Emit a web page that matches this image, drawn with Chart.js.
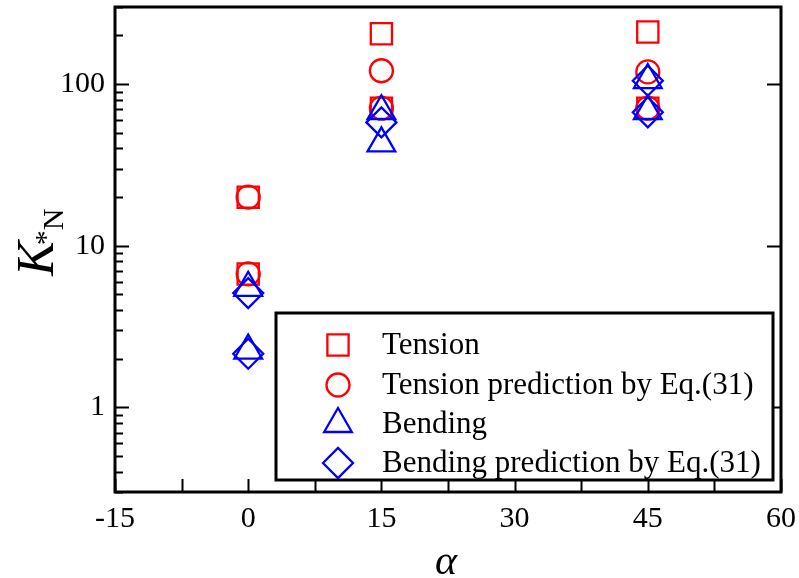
<!DOCTYPE html>
<html>
<head>
<meta charset="utf-8">
<script src="https://cdn.jsdelivr.net/npm/chart.js@4.4.0/dist/chart.umd.min.js"></script>
<style>
  html, body { margin: 0; padding: 0; background: #fff; }
</style>
</head>
<body>
<canvas id="kChart" width="799" height="578"></canvas>
<script>
// ===== data: K*N against angle alpha =====
const alphaTension = [0, 0, 15, 15, 45, 45];
const kTension = [20, 6.7, 205, 71, 210, 71];

const alphaTensionPred = [0, 0, 15, 15, 45, 45];
const kTensionPred = [20, 6.7, 121, 71, 119, 71];

const alphaBending = [0, 0, 15, 15, 45, 45];
const kBending = [5.5, 2.25, 68, 43, 106, 68];

const alphaBendingPred = [0, 0, 15, 45, 45];
const kBendingPred = [5.1, 2.15, 58, 105, 67];

const seriesNames = [
  "Tension",
  "Tension prediction by Eq.(31)",
  "Bending",
  "Bending prediction by Eq.(31)",
];

const xTickValues = [-15, 0, 15, 30, 45, 60];
const yTickValues = [1, 10, 100];

const RED = "#ff0000";
const BLUE = "#0000ff";
const SERIF = "'Liberation Serif', 'Times New Roman', serif";
const MARK_LW = 2.3;

function toPoints(xs, ys) {
  return xs.map((x, i) => ({ x: x, y: ys[i] }));
}

function makeSet(label, xs, ys, color, style, radius, order) {
  return {
    label: label,
    data: toPoints(xs, ys),
    showLine: false,
    pointStyle: style,
    pointRadius: radius,
    pointHoverRadius: radius,
    pointBorderWidth: MARK_LW,
    pointBorderColor: color,
    pointBackgroundColor: "rgba(0,0,0,0)",
    borderColor: color,
    order: order,
  };
}

const datasets = [
  makeSet(seriesNames[0], alphaTension, kTension, RED, "rect", 15, 4),
  makeSet(seriesNames[1], alphaTensionPred, kTensionPred, RED, "circle", 11.5, 3),
  makeSet(seriesNames[2], alphaBending, kBending, BLUE, "triangle", 16, 2),
  makeSet(seriesNames[3], alphaBendingPred, kBendingPred, BLUE, "rectRot", 15, 1),
];

// shape drawing for the legend, same shapes as the chart points
function drawMarker(ctx, style, radius, x, y) {
  if (Chart.helpers && Chart.helpers.drawPoint) {
    Chart.helpers.drawPoint(ctx, { pointStyle: style, radius: radius, borderWidth: MARK_LW }, x, y);
    return;
  }
  ctx.beginPath();
  if (style === "circle") {
    ctx.arc(x, y, radius, 0, Math.PI * 2);
  } else if (style === "rect") {
    const s = radius * Math.SQRT1_2;
    ctx.rect(x - s, y - s, 2 * s, 2 * s);
  } else if (style === "triangle") {
    ctx.moveTo(x, y - radius);
    ctx.lineTo(x + radius * 0.866, y + radius * 0.5);
    ctx.lineTo(x - radius * 0.866, y + radius * 0.5);
    ctx.closePath();
  } else {
    ctx.moveTo(x, y - radius);
    ctx.lineTo(x + radius, y);
    ctx.lineTo(x, y + radius);
    ctx.lineTo(x - radius, y);
    ctx.closePath();
  }
  ctx.stroke();
}

// frame around the plot + inward tick marks
const frameTicks = {
  id: "frameTicks",
  beforeDatasetsDraw(chart) {
    const { ctx, chartArea: a, scales } = chart;
    const xs = scales.x;
    const ys = scales.y;
    ctx.save();
    ctx.strokeStyle = "#000";
    ctx.lineWidth = 2;
    ctx.beginPath();

    // x ticks every 7.5
    for (let v = -15; v <= 60; v += 7.5) {
      const px = Math.round(xs.getPixelForValue(v)) + 0.5;
      ctx.moveTo(px, a.bottom);
      ctx.lineTo(px, a.bottom - 13);
    }

    // y ticks: decades long, 2..9 short
    for (let d = -1; d <= 2; d++) {
      for (let m = 1; m <= 9; m++) {
        const v = m * Math.pow(10, d);
        if (v < 0.3 || v > 300) continue;
        const py = Math.round(ys.getPixelForValue(v)) + 0.5;
        const len = m === 1 ? 14 : 8;
        ctx.moveTo(a.left, py);
        ctx.lineTo(a.left + len, py);
        if (m === 1) {
          ctx.moveTo(a.right, py);
          ctx.lineTo(a.right - len, py);
        }
      }
    }
    ctx.stroke();

    ctx.lineWidth = 3;
    ctx.strokeRect(a.left, a.top, a.right - a.left, a.bottom - a.top);
    ctx.restore();
  },
};

// boxed legend in the lower right of the plot
const boxLegend = {
  id: "boxLegend",
  afterDatasetsDraw(chart) {
    const ctx = chart.ctx;
    const box = { left: 276, top: 313, right: 773, bottom: 480 };
    const rowY = [345, 385, 424, 463];
    const markX = 338;
    const textX = 382;
    ctx.save();
    ctx.fillStyle = "#fff";
    ctx.fillRect(box.left, box.top, box.right - box.left, box.bottom - box.top);
    ctx.strokeStyle = "#000";
    ctx.lineWidth = 3;
    ctx.strokeRect(box.left, box.top, box.right - box.left, box.bottom - box.top);

    chart.data.datasets.forEach((ds, i) => {
      ctx.save();
      ctx.strokeStyle = ds.pointBorderColor;
      ctx.fillStyle = "rgba(0,0,0,0)";
      ctx.lineWidth = MARK_LW;
      drawMarker(ctx, ds.pointStyle, ds.pointRadius, markX, rowY[i]);
      ctx.restore();

      ctx.fillStyle = "#000";
      ctx.font = "31px " + SERIF;
      ctx.textBaseline = "middle";
      ctx.textAlign = "left";
      ctx.fillText(ds.label, textX, rowY[i] + 1);
    });
    ctx.restore();
  },
};

// axis titles: K*N (rotated, with subscript) and alpha
const axisTitles = {
  id: "axisTitles",
  afterDraw(chart) {
    const ctx = chart.ctx;
    ctx.save();
    ctx.fillStyle = "#000";

    ctx.translate(53, 276);
    ctx.rotate(-Math.PI / 2);
    ctx.textBaseline = "alphabetic";
    ctx.textAlign = "left";
    ctx.font = "italic 52px " + SERIF;
    ctx.fillText("K", 0, 0);
    const kw = ctx.measureText("K").width;
    ctx.font = "30px " + SERIF;
    ctx.fillText("*", kw - 4, 2);
    const sw = ctx.measureText("*").width;
    ctx.fillText("N", kw - 4 + sw, 10);
    ctx.restore();

    ctx.save();
    ctx.fillStyle = "#000";
    ctx.font = "italic 42px " + SERIF;
    ctx.textAlign = "center";
    ctx.textBaseline = "alphabetic";
    ctx.fillText("α", 446, 574);
    ctx.restore();
  },
};

// keep the plot box fixed: no extra room for overhanging tick labels
function noLabelPadding(scale) {
  scale.paddingLeft = 0;
  scale.paddingRight = 0;
  scale.paddingTop = 0;
  scale.paddingBottom = 0;
}

new Chart(document.getElementById("kChart"), {
  type: "scatter",
  data: { datasets: datasets },
  options: {
    responsive: false,
    animation: false,
    devicePixelRatio: 1,
    layout: {
      autoPadding: false,
      padding: { left: 0, top: 7, right: 18, bottom: 0 },
    },
    plugins: {
      legend: { display: false },
      tooltip: { enabled: false },
    },
    scales: {
      x: {
        type: "linear",
        min: -15,
        max: 60,
        grid: { display: false, drawTicks: false },
        border: { display: false },
        afterBuildTicks: (scale) => {
          scale.ticks = xTickValues.map((v) => ({ value: v }));
        },
        afterFit: (scale) => {
          scale.height = 86;
          noLabelPadding(scale);
        },
        ticks: {
          color: "#000",
          padding: 9,
          maxRotation: 0,
          autoSkip: false,
          font: { family: SERIF, size: 30 },
          callback: (v) => String(v),
        },
      },
      y: {
        type: "logarithmic",
        min: 0.3,
        max: 300,
        grid: { display: false, drawTicks: false },
        border: { display: false },
        afterBuildTicks: (scale) => {
          scale.ticks = yTickValues.map((v) => ({ value: v }));
        },
        afterFit: (scale) => {
          scale.width = 115;
          noLabelPadding(scale);
        },
        ticks: {
          color: "#000",
          padding: 10,
          autoSkip: false,
          font: { family: SERIF, size: 30 },
          callback: (v) => String(v),
        },
      },
    },
  },
  plugins: [frameTicks, boxLegend, axisTitles],
});
</script>
</body>
</html>
